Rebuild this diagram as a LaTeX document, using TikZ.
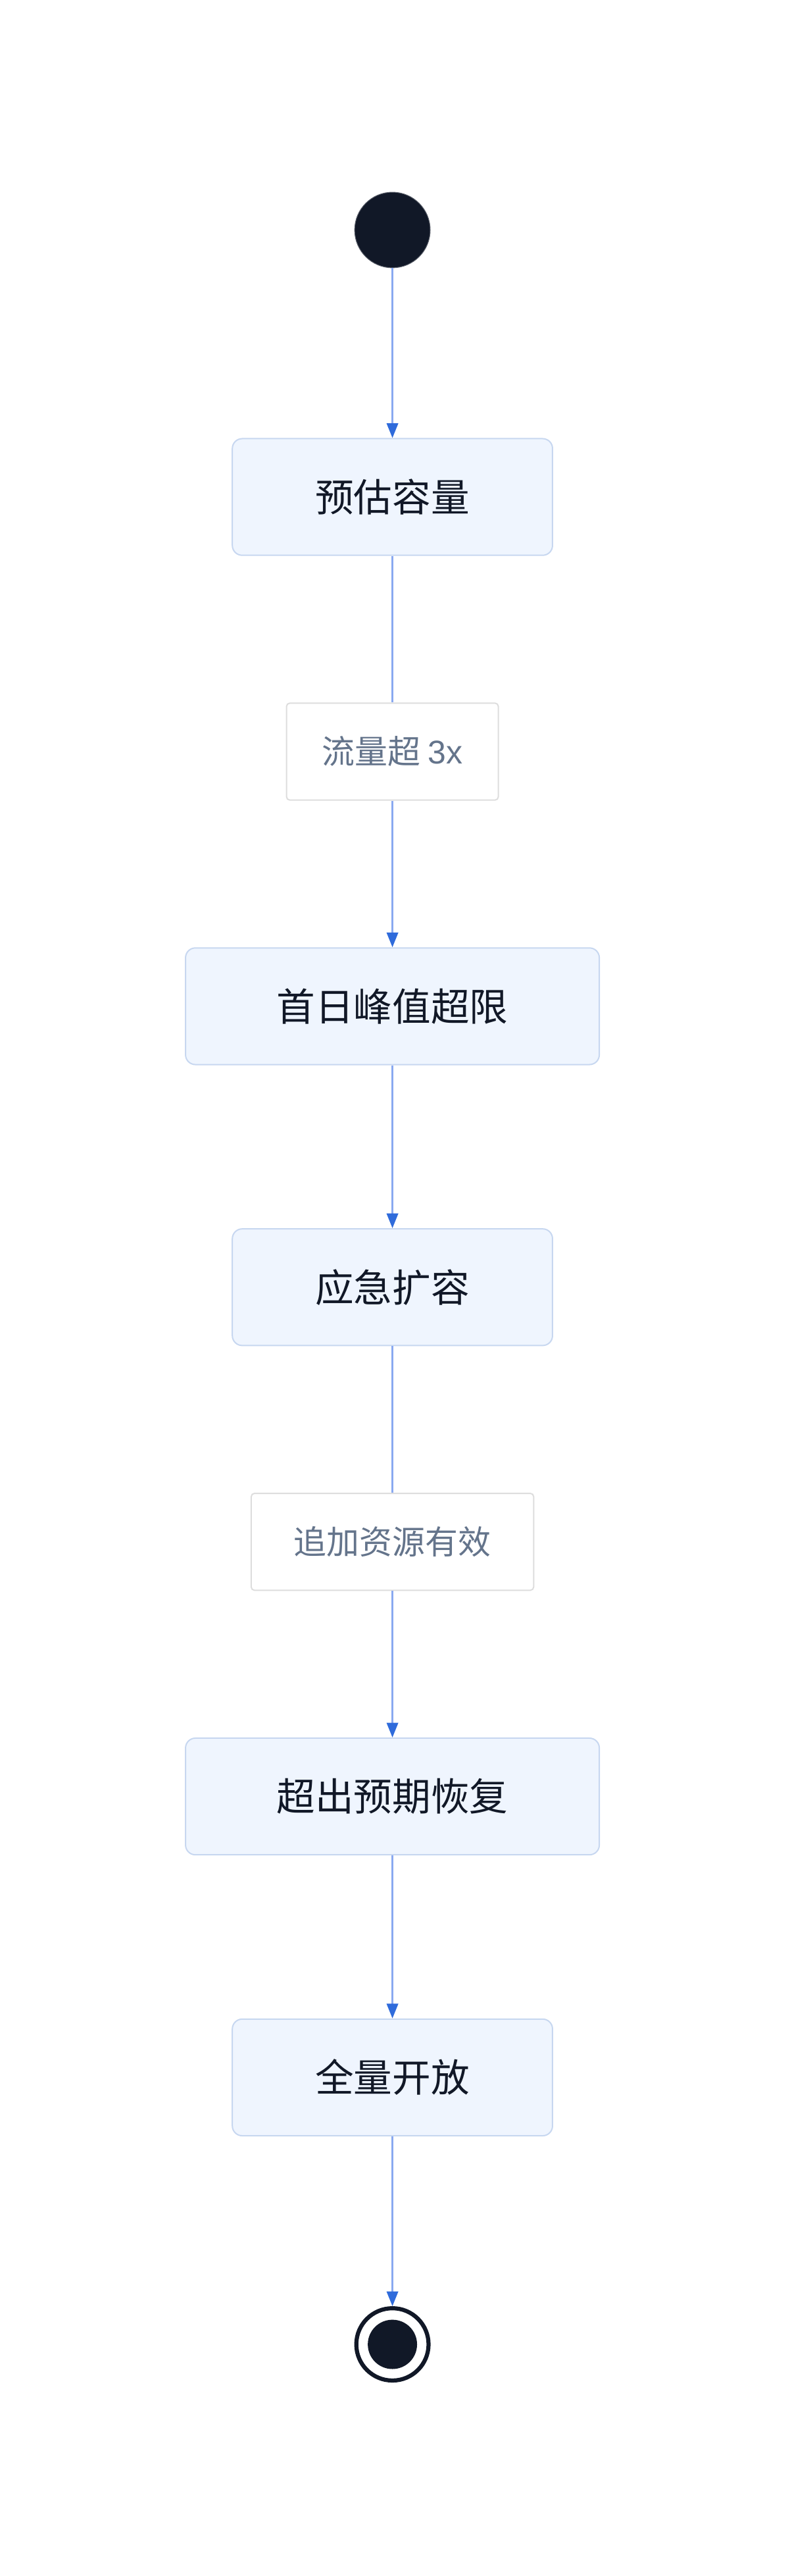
\documentclass[tikz,border=0pt]{standalone}
\usepackage{fontspec}
\setmainfont{Liberation Sans}
\newfontfamily\cjk{Noto Sans CJK SC}
\usetikzlibrary{arrows.meta}
\definecolor{boxfill}{HTML}{EFF5FE}
\definecolor{boxline}{HTML}{C7D7F0}
\definecolor{ink}{HTML}{111827}
\definecolor{edge}{HTML}{8AA9F0}
\definecolor{tip}{HTML}{2F6BDB}
\definecolor{lblline}{HTML}{DDDDDD}
\definecolor{lbltext}{HTML}{64748B}
\begin{document}
\begin{tikzpicture}[x=1pt,y=-1pt,
  st/.style={draw=boxline,fill=boxfill,rounded corners=6pt,line width=0.8pt,minimum height=71pt,text=ink,font=\cjk\fontsize{23.5}{26}\selectfont,inner sep=0pt},
  lb/.style={draw=lblline,fill=white,rounded corners=2pt,line width=0.8pt,minimum height=59pt,text=lbltext,font=\cjk\fontsize{20}{23}\selectfont,inner sep=0pt},
  ar/.style={draw=edge,line width=1pt,-{Triangle[length=9pt,width=7pt,color=tip]}},
  ln/.style={draw=edge,line width=1pt}]
\useasboundingbox (0,0) rectangle (481,1568);
\node[circle,fill=ink,draw=ink!70,minimum size=46pt,inner sep=0pt] (s) at (239,140) {};
\node[st,minimum width=195pt] (a) at (239,302.5) {预估容量};
\node[lb,minimum width=129pt] (l1) at (239,457.5) {流量超 {\fontspec{Liberation Sans}3x}};
\node[st,minimum width=252pt] (b) at (239,612.5) {首日峰值超限};
\node[st,minimum width=195pt] (c) at (239,783.5) {应急扩容};
\node[lb,minimum width=172pt] (l2) at (239,938.5) {追加资源有效};
\node[st,minimum width=252pt] (d) at (239,1093.5) {超出预期恢复};
\node[st,minimum width=195pt] (e) at (239,1264.5) {全量开放};
\node[circle,draw=ink,line width=2.5pt,fill=white,minimum size=44pt,inner sep=0pt] (f) at (239,1427) {};
\node[circle,fill=ink,minimum size=30pt,inner sep=0pt] at (f) {};
\draw[ar] (s) -- (a);
\draw[ln] (a) -- (l1);
\draw[ar] (l1) -- (b);
\draw[ar] (b) -- (c);
\draw[ln] (c) -- (l2);
\draw[ar] (l2) -- (d);
\draw[ar] (d) -- (e);
\draw[ar] (e) -- (f);
\end{tikzpicture}
\end{document}
